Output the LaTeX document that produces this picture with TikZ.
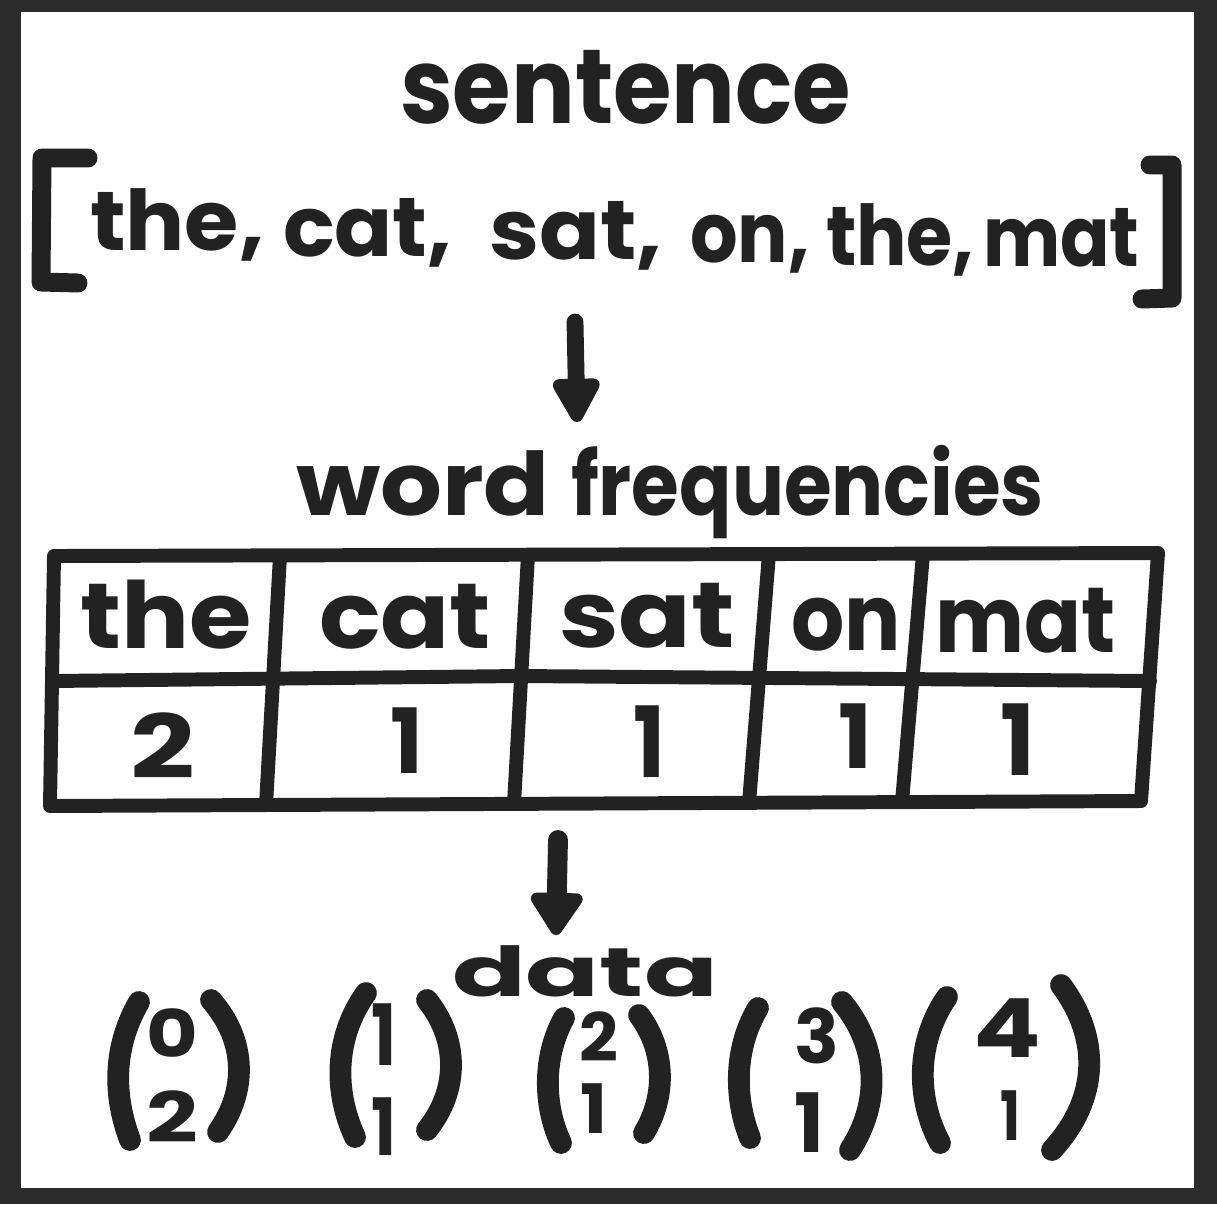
\documentclass[tikz,border=0pt]{standalone}
\usepackage{fontspec}
\setmainfont{Poppins}
\usepackage{graphicx}
\usetikzlibrary{arrows.meta}
\newdimen\pxu \pxu=0.5669pt
\definecolor{ink}{HTML}{222222}
\definecolor{framecol}{HTML}{2B2B2B}
\newcommand{\fitw}[3]{{\fontsize{#1}{#1}\selectfont\resizebox{#2\pxu}{\height}{#3}}}
\newcommand{\fitwh}[3]{{\fontsize{40}{40}\selectfont\resizebox{#1\pxu}{#2\pxu}{#3}}}
\tikzset{
  txt/.style={anchor=base west, inner sep=0pt, outer sep=0pt, text=ink, font=\bfseries},
  tabline/.style={draw=ink, line width=7.94pt, line cap=round, line join=round},
  parline/.style={draw=ink, line width=12.4pt, line cap=round},
  brkline/.style={draw=ink, line width=10.8pt, line cap=round, line join=round},
}
\begin{document}
\begin{tikzpicture}[x=0.02cm, y=-0.02cm]
\useasboundingbox (0,0) rectangle (1217,1204);
\fill[framecol] (0,0) rectangle (1217,1204);
\fill[white] (21,12) rectangle (1194,1188);

% title
\node[txt] (sent) at (400,123) {\fitw{60}{453}{sentence}};

% brackets
\draw[brkline] (88,158) -- (42,158) -- (41,282) -- (78,283);
\draw[brkline] (1150,165) -- (1172,165) -- (1172,298) -- (1142,299);

% words
\node[txt] (w1) at (90,250) {\fitw{47.6}{175}{the,}};
\node[txt] (w2) at (283,256) {\fitw{47.6}{170}{cat,}};
\node[txt] (w3) at (489,259) {\fitw{47.6}{174}{sat,}};
\node[txt] (w4) at (690,262) {\fitw{47.6}{120}{on,}};
\node[txt] (w5) at (826,265) {\fitw{47.6}{149}{the,}};
\node[txt] (w6) at (983,266) {\fitw{47.6}{157}{mat}};

% arrow 1
\coordinate (a1s) at (575,322);
\coordinate (a1e) at (577,422);
\draw[ink, line width=9.6pt, line cap=round, -{Triangle[width=29.5pt,length=29pt,round]}] (a1s) -- (a1e);

% word frequencies
\node[txt] (wf1) at (296,515) {\fitw{49.9}{255}{word}};
\node[txt] (wf2) at (571,515) {\fitw{49.9}{475}{frequencies}};

% table
\draw[tabline] (54,556) -- (1158,553) -- (1141,801) -- (50,806) -- cycle;
\draw[tabline] (52,681) -- (520,676) -- (1150,681);
\draw[tabline] (280,556) -- (266,805);
\draw[tabline] (528,555) -- (514,804);
\draw[tabline] (769,554) -- (749,803);
\draw[tabline] (923,554) -- (902,802);

\node[txt] (t1) at (80,648) {\fitw{52.7}{172}{the}};
\node[txt] (t2) at (319,648) {\fitw{52.7}{173}{cat}};
\node[txt] (t3) at (559,647) {\fitw{52.7}{177}{sat}};
\node[txt] (t4) at (791,650) {\fitw{52.7}{110}{on}};
\node[txt] (t5) at (935,652) {\fitw{52.7}{181}{mat}};

\node[txt] (n1) at (130,778) {\fitwh{65}{66}{2}};
\node[txt] (n2) at (390,773) {\fitwh{33}{66}{1}};
\node[txt] (n3) at (633,777) {\fitwh{32}{72}{1}};
\node[txt] (n4) at (838,768) {\fitwh{34}{65}{1}};
\node[txt] (n5) at (1000,775) {\fitwh{35}{72}{1}};

% arrow 2
\coordinate (a2s) at (558,840);
\coordinate (a2e) at (556,935);
\draw[ink, line width=11.3pt, line cap=round, -{Triangle[width=33.4pt,length=27pt,round]}] (a2s) -- (a2e);

% data
\node[txt] (data) at (452,996) {\fitw{39.1}{267}{data}};

% vectors
\draw[parline] (139,1002) .. controls (113,1047) and (113,1095) .. (130,1140);
\draw[parline] (211,1000) .. controls (247,1041) and (247,1091) .. (218,1132);
\node[txt] (v1a) at (146,1057) {\fitwh{52}{49}{0}};
\node[txt] (v1b) at (146,1142) {\fitwh{52}{52}{2}};

\draw[parline] (366,993) .. controls (334,1038) and (334,1092) .. (355,1137);
\draw[parline] (427,1000) .. controls (459,1040) and (459,1090) .. (427,1130);
\node[txt] (v2a) at (371,1065) {\fitwh{25}{62}{1}};
\node[txt] (v2b) at (371,1155) {\fitwh{25}{58}{1}};

\draw[parline] (564,1018) .. controls (543,1056) and (543,1105) .. (561,1143);
\draw[parline] (639,1015) .. controls (666,1051) and (666,1097) .. (644,1133);
\node[txt] (v3a) at (579,1061) {\fitwh{39}{50}{2}};
\node[txt] (v3b) at (580,1133) {\fitwh{27}{50}{1}};

\draw[parline] (758,1008) .. controls (734,1048) and (734,1098) .. (750,1138);
\draw[parline] (842,1002) .. controls (880,1048) and (880,1104) .. (850,1150);
\node[txt] (v4a) at (794,1063) {\fitwh{45}{56}{3}};
\node[txt] (v4b) at (794,1152) {\fitwh{30}{60}{1}};

\draw[parline] (947,997) .. controls (916,1042) and (916,1098) .. (940,1143);
\draw[parline] (1061,985) .. controls (1100,1037) and (1100,1098) .. (1052,1150);
\node[txt] (v5a) at (973,1057) {\fitwh{68}{59}{4}};
\node[txt] (v5b) at (1000,1140) {\fitwh{20}{50}{1}};
\end{tikzpicture}
\end{document}
